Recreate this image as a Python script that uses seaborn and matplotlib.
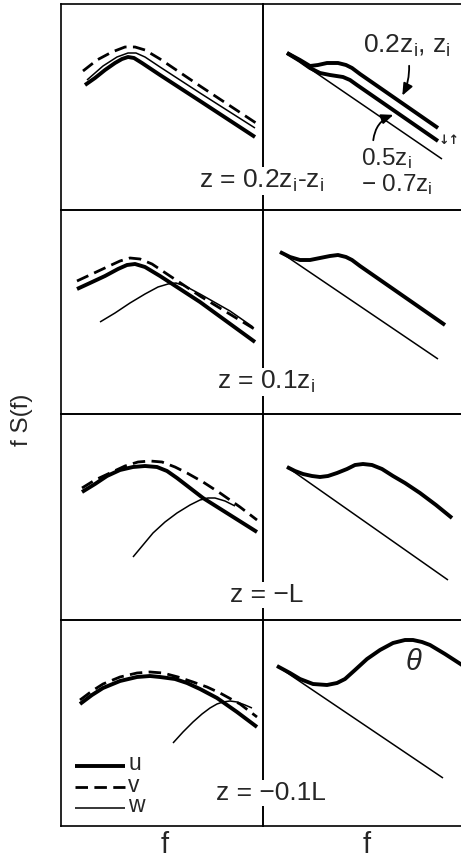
import matplotlib
matplotlib.use("Agg")
import matplotlib.pyplot as plt
import seaborn as sns

sns.set_theme(style="white")
plt.rcParams['font.family'] = ['Liberation Sans', 'DejaVu Sans']
plt.rcParams['mathtext.fontset'] = 'custom'
plt.rcParams['mathtext.rm'] = 'Liberation Sans'
plt.rcParams['mathtext.it'] = 'Liberation Sans:italic'

# ---------------- data (image-pixel coordinates) -------------
# Panel boundaries
col_edges = [61, 263, 462]
row_edges = [4, 210, 414, 620, 826]

# Row 1, left : z = 0.2zi - zi
p1_u_x = [85, 95, 105, 115, 122, 128, 134, 142, 160, 200, 255]
p1_u_y = [85, 78, 70, 63, 59, 57, 58, 63, 75, 101, 137]
p1_v_x = [83, 97, 112, 125, 135, 145, 160, 200, 256]
p1_v_y = [71, 60, 52, 47, 47, 50, 59, 86, 123]
p1_w_x = [87, 103, 117, 128, 136, 145, 160, 200, 255]
p1_w_y = [80, 66, 57, 53, 53, 57, 67, 93, 128]

# Row 1, right : theta spectra
p2_ref_x = [287, 442]
p2_ref_y = [53, 159]
p2_hi_x = [287, 300, 310, 318, 327, 338, 346, 352, 360, 438]
p2_hi_y = [53, 60, 66, 65, 63, 63, 65, 68, 74, 128]
p2_mid_x = [287, 300, 310, 320, 330, 343, 350, 357, 438]
p2_mid_y = [53, 61, 68, 73, 75, 77, 80, 85, 141]

# Row 2, left : z = 0.1zi
p3_u_x = [77, 90, 105, 118, 127, 135, 145, 160, 200, 255]
p3_u_y = [289, 283, 276, 269, 265, 264, 267, 276, 302, 342]
p3_v_x = [77, 92, 107, 120, 130, 140, 152, 170, 200, 256]
p3_v_y = [281, 274, 267, 261, 258, 259, 264, 276, 296, 330]
p3_w_x = [100, 115, 130, 145, 158, 168, 176, 185, 200, 230, 253]
p3_w_y = [322, 313, 303, 294, 287, 284, 283, 286, 294, 311, 327]

# Row 2, right
p4_ref_x = [280, 438]
p4_ref_y = [252, 359]
p4_t_x = [280, 290, 300, 310, 320, 330, 338, 346, 352, 360, 445]
p4_t_y = [252, 257, 260, 260, 258, 256, 255, 257, 260, 266, 325]

# Row 3, left : z = -L
p5_u_x = [82, 95, 107, 120, 133, 145, 157, 167, 177, 190, 203, 230, 257]
p5_u_y = [492, 484, 476, 470, 467, 466, 467, 471, 478, 488, 498, 515, 532]
p5_v_x = [82, 95, 110, 125, 138, 150, 162, 175, 187, 203, 220, 240, 257]
p5_v_y = [488, 480, 473, 466, 462, 461, 462, 467, 473, 482, 493, 507, 520]
p5_w_x = [133, 143, 153, 165, 177, 190, 200, 208, 215, 225, 235]
p5_w_y = [557, 545, 533, 522, 513, 505, 500, 498, 498, 501, 506]

# Row 3, right
p6_ref_x = [287, 448]
p6_ref_y = [467, 580]
p6_t_x = [287, 295, 303, 312, 320, 328, 337, 347, 355, 363, 372, 382, 393, 405, 420, 436, 452]
p6_t_y = [467, 471, 474, 476, 477, 476, 473, 469, 465, 464, 465, 469, 476, 483, 493, 505, 518]

# Row 4, left : z = -0.1L
p7_u_x = [80, 92, 103, 120, 137, 150, 160, 175, 187, 200, 217, 237, 257]
p7_u_y = [704, 695, 688, 681, 677, 676, 677, 679, 683, 689, 698, 712, 727]
p7_v_x = [80, 92, 103, 120, 137, 150, 163, 178, 193, 207, 220, 240, 257]
p7_v_y = [700, 691, 684, 677, 673, 672, 673, 677, 682, 687, 693, 704, 717]
p7_w_x = [173, 183, 193, 202, 210, 217, 223, 230, 237, 245, 252]
p7_w_y = [743, 732, 722, 714, 708, 704, 702, 701, 702, 705, 708]

# Row 4, right
p8_ref_x = [277, 443]
p8_ref_y = [666, 778]
p8_t_x = [277, 290, 300, 313, 327, 337, 345, 355, 367, 380, 393, 405, 413, 422, 430, 445, 462]
p8_t_y = [666, 673, 679, 684, 685, 683, 679, 670, 659, 650, 643, 640, 640, 642, 645, 654, 665]

# Legend
legend_labels = ["u", "v", "w"]
legend_y = [766, 787, 808]
legend_x = [75, 125]

height_labels = ["z = 0.2z$_\\mathregular{i}$-z$_\\mathregular{i}$",
                 "z = 0.1z$_\\mathregular{i}$",
                 "z = \u2212L",
                 "z = \u22120.1L"]
height_label_x = [262, 266, 267, 271]
height_label_y = [181, 382, 595, 793]

# ---------------- figure ----------------
W, H = 461, 861
fig = plt.figure(figsize=(W / 100, H / 100), dpi=100)

LW_U, LW_V, LW_W = 2.8, 2.0, 1.1
DASH = (0, (4.5, 2.3))
FS = 19


def make_ax(r, c):
    x0, x1 = col_edges[c], col_edges[c + 1]
    y0, y1 = row_edges[r], row_edges[r + 1]
    ax = fig.add_axes([x0 / W, 1 - y1 / H, (x1 - x0) / W, (y1 - y0) / H])
    ax.set_xlim(x0, x1)
    ax.set_ylim(y1, y0)
    ax.set_xticks([])
    ax.set_yticks([])
    ax.set_facecolor("none")
    for name, sp in ax.spines.items():
        sp.set_color("black")
        sp.set_linewidth(1.2)
        sp.set_visible(True)
        sp.set_zorder(1)
    if c == 1:
        ax.spines["right"].set_visible(False)
    return ax


def line(ax, x, y, lw, ls="-"):
    sns.lineplot(x=x, y=y, ax=ax, sort=False, estimator=None, color="black",
                 linewidth=lw, linestyle=ls, solid_capstyle="butt",
                 solid_joinstyle="round", zorder=3)


left_sets = [
    (p1_u_x, p1_u_y, p1_v_x, p1_v_y, p1_w_x, p1_w_y),
    (p3_u_x, p3_u_y, p3_v_x, p3_v_y, p3_w_x, p3_w_y),
    (p5_u_x, p5_u_y, p5_v_x, p5_v_y, p5_w_x, p5_w_y),
    (p7_u_x, p7_u_y, p7_v_x, p7_v_y, p7_w_x, p7_w_y),
]
right_sets = [
    (p2_ref_x, p2_ref_y, [(p2_hi_x, p2_hi_y), (p2_mid_x, p2_mid_y)]),
    (p4_ref_x, p4_ref_y, [(p4_t_x, p4_t_y)]),
    (p6_ref_x, p6_ref_y, [(p6_t_x, p6_t_y)]),
    (p8_ref_x, p8_ref_y, [(p8_t_x, p8_t_y)]),
]

left_axes = []
right_axes = []
for r in range(4):
    axl = make_ax(r, 0)
    left_axes.append(axl)
    ux, uy, vx, vy, wx, wy = left_sets[r]
    line(axl, wx, wy, LW_W)
    line(axl, vx, vy, LW_V, DASH)
    line(axl, ux, uy, LW_U)

    axr = make_ax(r, 1)
    right_axes.append(axr)
    rx, ry, curves = right_sets[r]
    line(axr, rx, ry, LW_W)
    for cx, cy in curves:
        line(axr, cx, cy, LW_U)

ax2 = right_axes[0]
ax8 = right_axes[3]

# height labels (centred on the divider, on a white patch that breaks the divider)
for i in range(4):
    fig.text(height_label_x[i] / W, 1 - height_label_y[i] / H, height_labels[i],
             ha="center", va="center", fontsize=FS, zorder=10,
             bbox=dict(facecolor="white", edgecolor="none", pad=1.0))

# annotations in the top-right panel
ax2.text(407, 46, "0.2z$_\\mathregular{i}$, z$_\\mathregular{i}$", ha="center",
         va="center", fontsize=FS)
ax2.text(361, 159, "0.5z$_\\mathregular{i}$", ha="left", va="center", fontsize=17.5)
ax2.text(361, 185, "\u2212 0.7z$_\\mathregular{i}$", ha="left", va="center",
         fontsize=17.5)
ax2.annotate("", xy=(401, 98), xytext=(409, 63),
             arrowprops=dict(arrowstyle="-|>,head_length=0.6,head_width=0.25",
                             color="black", lw=1.3,
                             connectionstyle="arc3,rad=-0.15"))
ax2.annotate("", xy=(396, 114), xytext=(373, 143),
             arrowprops=dict(arrowstyle="-|>,head_length=0.6,head_width=0.25",
                             color="black", lw=1.3,
                             connectionstyle="arc3,rad=-0.35"))
ax2.text(449, 140, "\u2193\u2191", ha="center", va="center", fontsize=9,
         family="DejaVu Sans", fontweight="bold")

# theta label
ax8.text(413, 662, "\u03b8", ha="center", va="center", fontsize=21,
         style="italic")

# legend inside bottom-left panel
axl = left_axes[3]
styles = [(LW_U, "-"), (LW_V, DASH), (LW_W, "-")]
for lab, yy, (lw, ls) in zip(legend_labels, legend_y, styles):
    line(axl, legend_x, [yy, yy], lw, ls)
    axl.text(legend_x[1] + 3, yy - 2, lab, ha="left", va="center", fontsize=16.5)

# axis labels
fig.text(165 / W, 1 - 845 / H, "f", ha="center", va="center", fontsize=21)
fig.text(367 / W, 1 - 845 / H, "f", ha="center", va="center", fontsize=21)
fig.text(22 / W, 1 - 420 / H, "f S(f)", ha="center", va="center",
         fontsize=17.5, rotation=90)

fig.savefig("out.png", dpi=100, facecolor="white")
